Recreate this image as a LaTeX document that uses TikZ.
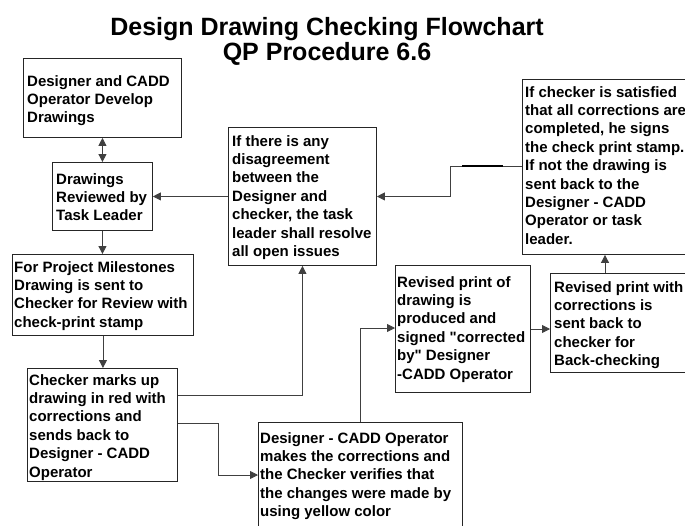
\documentclass[tikz,border=0pt]{standalone}
\usepackage{fontspec}
\setmainfont{Liberation Sans}[Ligatures=TeXOff]
\usetikzlibrary{arrows.meta,calc}
\begin{document}
\begin{tikzpicture}[x=1pt,y=-1pt,
  box/.style={draw=black!85, line width=0.9pt, anchor=north west, inner sep=0pt},
  txt/.style={anchor=north west, inner sep=0pt, align=left, font=\fontsize{15}{18.4}\selectfont\bfseries},
  ttl/.style={anchor=base, inner sep=0pt, font=\fontsize{25}{30}\selectfont\bfseries},
  conn/.style={draw=black!75, line width=0.8pt},
  arr/.style={conn, -{Triangle[length=8pt,width=8pt]}},
  dblarr/.style={conn, {Triangle[length=8pt,width=8pt]}-{Triangle[length=8pt,width=8pt]}},
]
\useasboundingbox (0,0) rectangle (685,525);
\clip (0,0) rectangle (685,525);
\fill[white] (0,0) rectangle (685,525);

% titles
\node[ttl] (title1) at (327,35) {Design Drawing Checking Flowchart};
\node[ttl] (title2) at (327,60) {QP Procedure 6.6};

% boxes
\node[box, minimum width=158pt, minimum height=79pt]  (b1) at (23,58)  {};
\node[box, minimum width=100pt, minimum height=68pt]  (b2) at (52,162) {};
\node[box, minimum width=181pt, minimum height=81pt]  (b3) at (12,254) {};
\node[box, minimum width=150pt, minimum height=113pt] (b4) at (27,368) {};
\node[box, minimum width=148pt, minimum height=138pt] (b5) at (228,127) {};
\node[box, minimum width=135pt, minimum height=127pt] (b6) at (395,265) {};
\node[box, minimum width=180pt, minimum height=175pt] (b7) at (522,79) {};
\node[box, minimum width=150pt, minimum height=99pt]  (b8) at (550,273) {};
\node[box, minimum width=204pt, minimum height=120pt] (b9) at (258,422) {};

% texts
\node[txt] (t1) at (27,75) {Designer and CADD\\Operator Develop\\Drawings};
\node[txt] (t2) at (56,173) {Drawings\\Reviewed by\\Task Leader};
\node[txt] (t3) at (14,261) {For Project Milestones\\Drawing is sent to\\Checker for Review with\\check-print stamp};
\node[txt] (t4) at (29,374) {Checker marks up\\drawing in red with\\corrections and\\sends back to\\Designer - CADD\\Operator};
\node[txt] (t5) at (232,135) {If there is any\\disagreement\\between the\\Designer and\\checker, the task\\leader shall resolve\\all open issues};
\node[txt] (t6) at (397,276) {Revised print of\\drawing is\\produced and\\signed "corrected\\by" Designer\\-CADD Operator};
\node[txt] (t7) at (525,86) {If checker is satisfied\\that all corrections are\\completed, he signs\\the check print stamp.\\If not the drawing is\\sent back to the\\Designer - CADD\\Operator or task\\leader.};
\node[txt] (t8) at (554,281) {Revised print with\\corrections is\\sent back to\\checker for\\Back-checking};
\node[txt] (t9) at (260,432) {Designer - CADD Operator\\makes the corrections and\\the Checker verifies that\\the changes were made by\\using yellow color};

% connectors
\draw[dblarr] (b1.south) -- (b2.north);
\draw[arr] (b2.south) -- (b2.south |- b3.north);
\draw[arr] (b3.south) -- (b3.south |- b4.north);
\draw[arr] ($(b4.north east)+(0,27)$) -| (b5.south);
\draw[arr] ($(b4.north east)+(0,55)$) -- ++(40,0) |- ($(b9.north west)+(0,53)$);
\draw[arr] ($(b9.north west)+(102,0)$) |- ($(b6.north west)+(0,63)$);
\draw[arr] ($(b6.north east)+(0,64)$) coordinate (c68) -- (c68 -| b8.west);
\draw[arr] ($(b8.north west)+(55,0)$) coordinate (c87) -- (c87 |- b7.south);
\draw[arr] ($(b7.north west)+(0,87)$) coordinate (c75) -- ++(-72,0) |- (b5.east);
\draw[line width=2.8pt, black] ($(c75)+(-60,0)$) coordinate (k1) -- ($(c75)+(-19,0)$) coordinate (k2);
\draw[arr] (b5.west) -- (b5.west -| b2.east);
\end{tikzpicture}
\end{document}
